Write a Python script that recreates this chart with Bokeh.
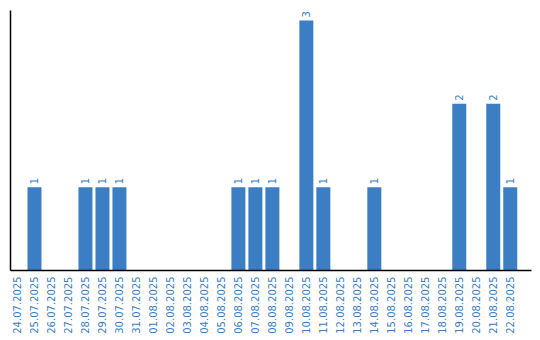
import math
from bokeh.plotting import figure
from bokeh.models import ColumnDataSource, FixedTicker, Range1d
from bokeh.core.properties import value
from bokeh.embed import file_html
from bokeh.resources import INLINE

dates = ["24.07.2025", "25.07.2025", "26.07.2025", "27.07.2025", "28.07.2025",
         "29.07.2025", "30.07.2025", "31.07.2025", "01.08.2025", "02.08.2025",
         "03.08.2025", "04.08.2025", "05.08.2025", "06.08.2025", "07.08.2025",
         "08.08.2025", "09.08.2025", "10.08.2025", "11.08.2025", "12.08.2025",
         "13.08.2025", "14.08.2025", "15.08.2025", "16.08.2025", "17.08.2025",
         "18.08.2025", "19.08.2025", "20.08.2025", "21.08.2025", "22.08.2025"]
counts = [0, 1, 0, 0, 1, 1, 1, 0, 0, 0,
          0, 0, 0, 1, 1, 1, 0, 3, 1, 0,
          0, 1, 0, 0, 0, 0, 2, 0, 2, 1]

BAR = "#3b7ec3"
TXT = "#3b7ec6"

xs = list(range(len(dates)))
src = ColumnDataSource(dict(x=xs, top=counts))
lab_x = [x for x, c in zip(xs, counts) if c > 0]
lab_y = [c for c in counts if c > 0]
lab_t = [str(c) for c in counts if c > 0]
lsrc = ColumnDataSource(dict(x=lab_x, y=lab_y, t=lab_t))

p = figure(width=540, height=340, output_backend="svg", toolbar_location=None,
           x_range=Range1d(-7/17, 30.25), y_range=Range1d(0, 3.12),
           min_border_left=10, min_border_top=10, min_border_right=9, min_border_bottom=70)
p.vbar(x="x", top="top", width=14/17, source=src, fill_color=BAR, line_color=None)
p.text(x="x", y="y", text="t", source=lsrc, angle=math.pi/2, text_align="left",
       text_baseline="middle", y_offset=-3, text_color=TXT,
       text_font=value("DejaVu Sans"), text_font_size="10px")

p.grid.visible = False
p.outline_line_color = None
p.background_fill_color = "white"

xa = p.xaxis[0]
xa.ticker = FixedTicker(ticks=xs)
xa.major_label_overrides = {i: d for i, d in enumerate(dates)}
xa.major_label_orientation = math.pi/2
xa.major_label_text_color = TXT
xa.major_label_text_font = "DejaVu Sans"
xa.major_label_text_font_size = "10px"
xa.major_tick_line_color = None
xa.minor_tick_line_color = None
xa.major_tick_in = 0
xa.major_tick_out = 0
xa.major_label_standoff = 6
xa.axis_line_color = "black"
xa.axis_line_width = 1.5

ya = p.yaxis[0]
ya.ticker = FixedTicker(ticks=[])
ya.major_tick_line_color = None
ya.minor_tick_line_color = None
ya.major_tick_in = 0
ya.major_tick_out = 0
ya.major_label_standoff = 0
ya.major_label_text_font_size = "0px"
ya.axis_line_color = "black"
ya.axis_line_width = 1.5

open("out.html", "w").write(file_html(p, INLINE))
